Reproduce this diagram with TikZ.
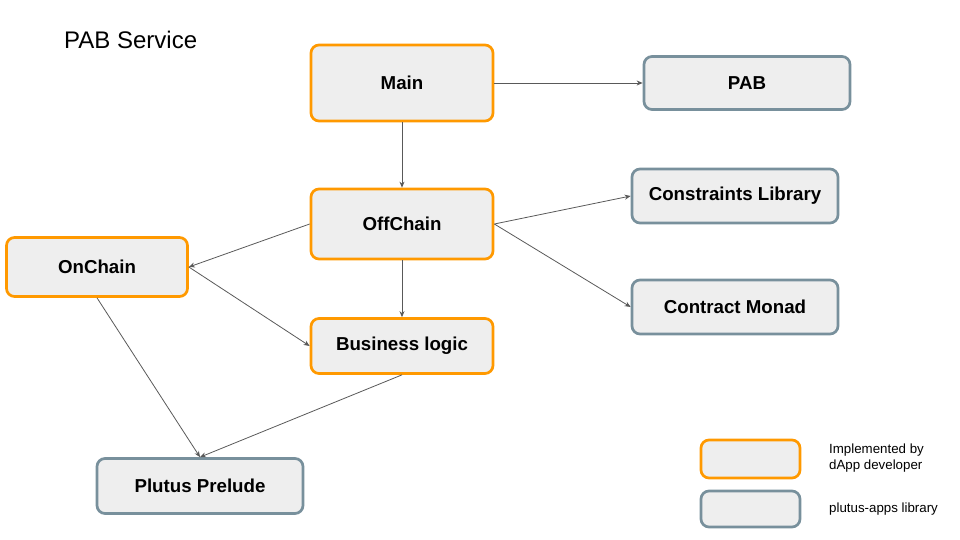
\documentclass[tikz,border=0pt]{standalone}
\usepackage{fontspec}
\setmainfont{Liberation Sans}
\usetikzlibrary{arrows.meta}
\definecolor{devorange}{HTML}{FF9900}
\definecolor{libgray}{HTML}{78909C}
\definecolor{boxfill}{HTML}{EEEEEE}
\definecolor{linegray}{HTML}{595959}
\tikzset{
  dev/.style={draw=devorange, line width=2.7pt, fill=boxfill, rounded corners=8pt, font=\fontsize{18.7}{22}\selectfont\bfseries, inner sep=0pt},
  lib/.style={draw=libgray, line width=2.7pt, fill=boxfill, rounded corners=8pt, font=\fontsize{18.7}{22}\selectfont\bfseries, inner sep=0pt},
  conn/.style={draw=linegray, line width=0.8pt, -{Stealth[length=6pt,width=5pt]}},
  legtext/.style={font=\fontsize{13.3}{16}\selectfont, align=left, anchor=west, inner sep=0pt}
}
\begin{document}
\begin{tikzpicture}[x=1pt,y=-1pt]
\useasboundingbox (0,0) rectangle (960,540);
\node[anchor=west, font=\fontsize{24}{28}\selectfont, inner sep=0pt] (title) at (64,40) {PAB Service};
\node[dev, minimum width=182pt, minimum height=76pt] (main) at (402,83) {Main};
\node[lib, minimum width=206pt, minimum height=53pt] (pab) at (747,83) {PAB};
\node[dev, minimum width=182pt, minimum height=70pt] (off) at (402,224) {OffChain};
\node[lib, minimum width=206pt, minimum height=54pt] (cons) at (735,196) {Constraints Library};
\node[lib, minimum width=206pt, minimum height=54pt] (cm) at (735,307) {Contract Monad};
\node[dev, minimum width=181pt, minimum height=59pt] (on) at (97,267) {OnChain};
\node[dev, minimum width=182pt, minimum height=55pt] (biz) at (402,346) {Business logic};
\node[lib, minimum width=206pt, minimum height=55pt] (pp) at (200,486) {Plutus Prelude};
\node[dev, minimum width=99pt, minimum height=38pt] (legdev) at (750.5,459) {};
\node[lib, minimum width=99pt, minimum height=36pt] (leglib) at (750.5,509) {};
\node[legtext] (legdevtext) at (829,458) {Implemented by\\dApp developer};
\node[legtext] (leglibtext) at (829,509) {plutus-apps library};
\draw[conn] (main.south) -- (off.north);
\draw[conn] (main.east) -- (pab.west);
\draw[conn] (off.east) -- (cons.west);
\draw[conn] (off.east) -- (cm.west);
\draw[conn] (off.west) -- (on.east);
\draw[conn] (on.east) -- (biz.west);
\draw[conn] (off.south) -- (biz.north);
\draw[conn] (on.south) -- (pp.north);
\draw[conn] (biz.south) -- (pp.north);
\end{tikzpicture}
\end{document}
